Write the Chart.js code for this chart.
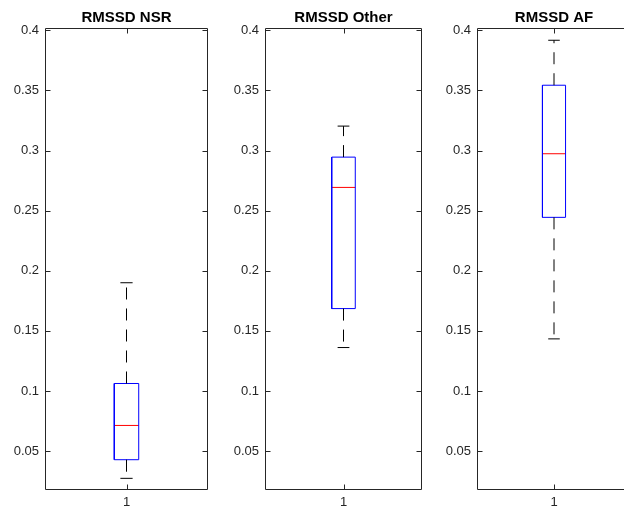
<!DOCTYPE html>
<html>
<head>
<meta charset="utf-8">
<script src="https://cdn.jsdelivr.net/npm/chart.js@4/dist/chart.umd.min.js"></script>
<style>
  html, body { margin: 0; padding: 0; background: #fff; width: 624px; height: 512px; overflow: hidden; }
  #wrap { position: relative; width: 624px; height: 512px; overflow: hidden; background: #fff; }
  canvas { position: absolute; top: 0; }
</style>
</head>
<body>
<div id="wrap">
  <canvas id="c0"></canvas>
  <canvas id="c1"></canvas>
  <canvas id="c2"></canvas>
</div>
<script>
// ---- data ----
const panelTitles = ['RMSSD NSR', 'RMSSD Other', 'RMSSD AF'];
const xCategories = ['1'];
const whiskerLow  = [0.0273, 0.1361, 0.1433];
const q1Values    = [0.0428, 0.1685, 0.2444];
const medians     = [0.0713, 0.2693, 0.2973];
const q3Values    = [0.1062, 0.2945, 0.3543];
const whiskerHigh = [0.1900, 0.3203, 0.3917];
const yTicks      = [0.05, 0.1, 0.15, 0.2, 0.25, 0.3, 0.35, 0.4];
const yTickLabels = ['0.05', '0.1', '0.15', '0.2', '0.25', '0.3', '0.35', '0.4'];
const yMin = 0.0176, yMax = 0.4019;

// ---- layout (pixels) ----
const plotLeft  = [45, 265, 477];
const plotRight = [208, 422, 631];
const yAxisW = 45, H = 512;
const axisColor = '#262626';
const FONT = "'Liberation Sans', Arial, Helvetica, sans-serif";
const boxHalf = 0.075, capHalf = 0.0375;

const framePlugin = {
  id: 'frame',
  afterDatasetsDraw(chart) {
    const { ctx, chartArea: a, scales } = chart;
    const L = Math.round(a.left) + 0.5, R = Math.round(a.right) - 0.5;
    const T = Math.round(a.top) + 0.5, B = Math.round(a.bottom) - 0.5;
    ctx.save();
    ctx.strokeStyle = axisColor;
    ctx.lineWidth = 1;
    ctx.beginPath();
    ctx.moveTo(L, T); ctx.lineTo(R, T); ctx.lineTo(R, B); ctx.lineTo(L, B); ctx.closePath();
    const tl = 5;
    scales.y.ticks.forEach(t => {
      const y = Math.round(scales.y.getPixelForValue(t.value)) + 0.5;
      ctx.moveTo(L, y); ctx.lineTo(L + tl, y);
      ctx.moveTo(R, y); ctx.lineTo(R - tl, y);
    });
    scales.x.ticks.forEach(t => {
      const x = Math.round(scales.x.getPixelForValue(t.value)) + 0.5;
      ctx.moveTo(x, B); ctx.lineTo(x, B - tl);
      ctx.moveTo(x, T); ctx.lineTo(x, T + tl);
    });
    ctx.stroke();
    ctx.restore();
  }
};

function line(points, color, dash) {
  return {
    data: points, showLine: true, borderColor: color, borderWidth: 1,
    borderDash: dash || [], pointRadius: 0, pointHoverRadius: 0, fill: false, tension: 0
  };
}

for (let i = 0; i < 3; i++) {
  const cv = document.getElementById('c' + i);
  const plotW = plotRight[i] - plotLeft[i];
  const W = yAxisW + plotW + yAxisW;
  cv.width = W; cv.height = H;
  cv.style.width = W + 'px'; cv.style.height = H + 'px';
  cv.style.left = (plotLeft[i] - yAxisW) + 'px';
  const xc = 1;
  const datasets = [
    line([{x: xc, y: q3Values[i]}, {x: xc, y: whiskerHigh[i]}], '#000000', [12, 9]),
    line([{x: xc, y: q1Values[i]}, {x: xc, y: whiskerLow[i]}], '#000000', [12, 9]),
    line([{x: xc - capHalf, y: whiskerHigh[i]}, {x: xc + capHalf, y: whiskerHigh[i]}], '#000000'),
    line([{x: xc - capHalf, y: whiskerLow[i]}, {x: xc + capHalf, y: whiskerLow[i]}], '#000000'),
    line([
      {x: xc - boxHalf, y: q1Values[i]}, {x: xc + boxHalf, y: q1Values[i]},
      {x: xc + boxHalf, y: q3Values[i]}, {x: xc - boxHalf, y: q3Values[i]},
      {x: xc - boxHalf, y: q1Values[i]}
    ], '#0000ff'),
    line([{x: xc - boxHalf, y: medians[i]}, {x: xc + boxHalf, y: medians[i]}], '#ff0000')
  ];
  new Chart(cv, {
    type: 'scatter',
    data: { datasets },
    plugins: [framePlugin],
    options: {
      responsive: false, animation: false, devicePixelRatio: 1,
      layout: { padding: 0 },
      plugins: {
        legend: { display: false }, tooltip: { enabled: false },
        title: {
          display: true, text: panelTitles[i], color: '#000000',
          font: { family: FONT, size: 15, weight: 'bold' },
          padding: { top: 9, bottom: 1 }
        }
      },
      scales: {
        x: {
          type: 'linear', min: 0.5, max: 1.5,
          grid: { display: false, drawTicks: false },
          border: { display: false },
          afterBuildTicks: s => { s.ticks = [{ value: 1 }]; },
          afterFit: s => { s.height = 22; },
          ticks: {
            color: axisColor, padding: 5, maxRotation: 0,
            font: { family: FONT, size: 13 },
            callback: (v, idx) => xCategories[idx]
          }
        },
        y: {
          type: 'linear', position: 'left', min: yMin, max: yMax,
          grid: { display: false, drawTicks: false },
          border: { display: false },
          afterBuildTicks: s => { s.ticks = yTicks.map(v => ({ value: v })); },
          afterFit: s => { s.width = yAxisW; },
          ticks: {
            color: axisColor, padding: 6,
            font: { family: FONT, size: 13 },
            callback: (v, idx) => yTickLabels[idx]
          }
        },
        yRight: {
          type: 'linear', position: 'right', min: yMin, max: yMax,
          grid: { display: false, drawTicks: false },
          border: { display: false },
          ticks: { display: false },
          afterFit: s => { s.width = yAxisW; }
        }
      }
    }
  });
}
</script>
</body>
</html>
